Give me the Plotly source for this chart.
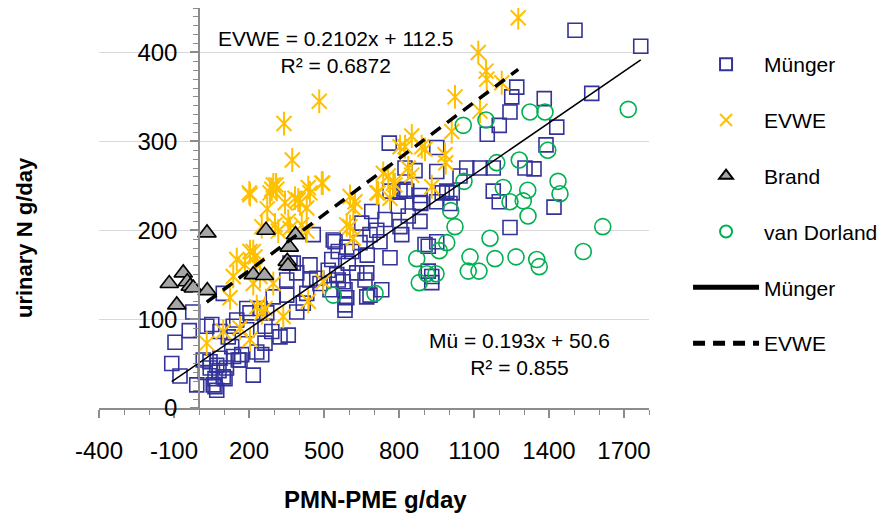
import plotly.graph_objects as go

# ---------------- data ----------------
munger_x = [-109, -96, -76, -39, -25, -9, 17, 25, 44, 45, 57, 64, 64, 71, 71, 80, 84, 97, 97, 104,
            110, 31, 51, 84, 117, 131, 137, 138, 151, 157, 164, 171, 191, 191, 204, 217, 231, 244,
            251, 264, 264, 271, 291, 297, 324, 351, 351, 357, 364, 377, 391, 391, 417, 431, 444,
            444, 457, 471, 484, 517, 524, 531, 537, 544, 551, 557, 557, 577, 584, 584, 584, 591,
            591, 597, 611, 631, 644, 651, 664, 671, 671, 673, 684, 684, 691, 711, 724, 731, 744,
            761, 764, 764, 797, 804, 804, 811, 824, 824, 831, 837, 864, 884, 884, 884, 887, 904,
            917, 917, 931, 931, 951, 951, 951, 951, 973, 991, 1004, 1013, 1044, 1071, 1124, 1153,
            1177, 1177, 1201, 1201, 1244, 1244, 1251, 1271, 1304, 1340, 1381, 1388, 1420, 1431,
            1504, 1571, 1767]
munger_y = [50, 74, 36, 87, 108, 26, 54, 40, 52, 45, 26, 33, 24, 48, 20, 42, 56, 35, 129, 33,
            45, 92, 94, 86, 80, 69, 92, 58, 99, 54, 54, 60, 88, 112, 107, 37, 63, 112,
            60, 73, 92, 107, 86, 125, 80, 127, 144, 82, 163, 163, 108, 152, 118, 129, 144,
            161, 195, 146, 140, 155, 133, 167, 189, 187, 150, 144, 176, 142, 133, 116, 110, 124,
            181, 163, 176, 152, 186, 208, 144, 125, 152, 172, 127, 195, 221, 200, 187, 133, 212,
            298, 169, 244, 227, 244, 204, 195, 246, 270, 244, 216, 267, 210, 231, 239, 230, 184,
            182, 154, 148, 141, 293, 266, 232, 187, 242, 244, 230, 242, 261, 270, 270, 308,
            270, 244, 318, 232, 333, 203, 350, 361, 270, 269, 348, 296, 226, 316,
            425, 354, 407]

evwe_x = [31, 97, 124, 137, 151, 164, 184, 201, 204, 204, 204, 217, 217, 224, 231, 231, 244, 251,
          251, 264, 273, 284, 291, 297, 297, 304, 308, 311, 317, 337, 340, 344, 357, 364, 373,
          384, 397, 404, 411, 431, 431, 437, 437, 444, 481, 491, 495, 497, 591, 604, 604, 617,
          617, 624, 711, 717, 737, 757, 764, 777, 784, 804, 824, 837, 851, 851, 891, 904, 931,
          984, 987, 1011, 1024, 1117, 1124, 1148, 1151, 1211, 1277]
evwe_y = [73, 86, 124, 148, 167, 90, 161, 242, 176, 77, 240, 140, 176, 170, 114, 161, 148, 107,
          204, 112, 224, 242, 246, 251, 140, 206, 251, 246, 199, 103, 320, 231, 210, 202, 279,
          236, 234, 231, 206, 225, 199, 248, 120, 242, 345, 253, 253, 142, 206, 238, 204, 191,
          225, 232, 242, 242, 264, 261, 236, 253, 251, 294, 294, 270, 306, 262, 294, 291, 249,
          285, 276, 311, 350, 400, 334, 379, 370, 366, 439]

brand_x = [-119, -89, -63, -47, -35, -23, 33, 32, 217, 262, 268, 353, 356, 361, 386]
brand_y = [140, 116, 152, 142, 137, 135, 132, 197, 150, 149, 200, 165, 160, 181, 195]

dorland_x = [537, 704, 871, 881, 911, 948, 961, 991, 1007, 1024, 1060, 1057, 1077, 1084, 1120,
             1148, 1164, 1184, 1191, 1217, 1244, 1268, 1281, 1297, 1315, 1316, 1324, 1351, 1361,
             1384, 1395, 1436, 1444, 1537, 1615, 1717]
dorland_y = [127, 129, 168, 141, 151, 151, 177, 186, 222, 204, 255, 318, 154, 170, 154,
             324, 191, 168, 276, 248, 232, 170, 279, 233, 245, 216, 333, 167, 159,
             333, 290, 255, 241, 176, 204, 336]

# regression coefficients shown on the chart
mu_slope, mu_icpt, mu_r2 = 0.193, 50.6, 0.855
ev_slope, ev_icpt, ev_r2 = 0.2102, 112.5, 0.6872

x_ticks = [-400, -100, 200, 500, 800, 1100, 1400, 1700]
y_ticks = [0, 100, 200, 300, 400]

# ---------------- styling ----------------
FONT = "Arial, Liberation Sans, Helvetica, sans-serif"
AXIS_COL = "#8c8c8c"
BLUE = "#333399"
GOLD = "#FFC000"
GREEN = "#00B050"
GRAY = "#A6A6A6"

fig = go.Figure()

fig.add_trace(go.Scatter(x=munger_x, y=munger_y, mode="markers", name="Münger",
                         legendgroup="g1",
                         marker=dict(symbol="square-open", size=14, color=BLUE,
                                     line=dict(width=1.6, color=BLUE))))
fig.add_trace(go.Scatter(x=evwe_x, y=evwe_y, mode="markers", name="EVWE",
                         legendgroup="g2",
                         marker=dict(symbol="x-thin-open", size=15, color=GOLD,
                                     line=dict(width=2, color=GOLD))))
fig.add_trace(go.Scatter(x=evwe_x, y=evwe_y, mode="markers", name="EVWE",
                         legendgroup="g2", showlegend=False,
                         marker=dict(symbol="line-ns-open", size=17, color=GOLD,
                                     line=dict(width=2, color=GOLD))))
fig.add_trace(go.Scatter(x=brand_x, y=brand_y, mode="markers", name="Brand",
                         legendgroup="g3",
                         marker=dict(symbol="triangle-up", size=16, color=GRAY,
                                     line=dict(width=1.6, color="black"))))
fig.add_trace(go.Scatter(x=dorland_x, y=dorland_y, mode="markers", name="van Dorland",
                         legendgroup="g4",
                         marker=dict(symbol="circle-open", size=16, color=GREEN,
                                     line=dict(width=1.6, color=GREEN))))

mx = [min(munger_x), max(munger_x)]
fig.add_trace(go.Scatter(x=mx, y=[mu_slope * v + mu_icpt for v in mx], mode="lines",
                         name="Münger", legendgroup="g5",
                         line=dict(color="black", width=1.5)))
ex = [min(evwe_x), max(evwe_x)]
fig.add_trace(go.Scatter(x=ex, y=[ev_slope * v + ev_icpt for v in ex], mode="lines",
                         name="EVWE", legendgroup="g6",
                         line=dict(color="black", width=3.5, dash="12px,8px")))

ypos = 400 / 2200  # fraction of x domain where x = 0

fig.update_layout(
    width=882, height=515,
    margin=dict(l=99, r=233, t=8, b=107, autoexpand=False),
    plot_bgcolor="white", paper_bgcolor="white",
    font=dict(family=FONT, color="black"),
    showlegend=True,
    legend=dict(x=1.071, y=0.91, xanchor="left", yanchor="top",
                font=dict(size=21, family=FONT), itemsizing="constant",
                itemwidth=66, tracegroupgap=25.5, bgcolor="rgba(0,0,0,0)"),
    xaxis=dict(range=[-400, 1800], tickvals=x_ticks, ticktext=[str(v) for v in x_ticks],
               showgrid=False, zeroline=False, showline=True, linecolor=AXIS_COL,
               linewidth=1.5, ticks="outside", ticklen=8, tickwidth=1.5, tickcolor=AXIS_COL,
               tickfont=dict(size=24), ticklabelstandoff=12,
               minor=dict(ticks="outside", ticklen=5, dtick=100, tick0=-400,
                          tickcolor=AXIS_COL, tickwidth=1.2, showgrid=False)),
    yaxis=dict(range=[0, 450], tickvals=y_ticks, anchor="free", position=ypos,
               showgrid=True, gridcolor="#d9d9d9", gridwidth=1,
               zeroline=False, showline=True, linecolor=AXIS_COL, linewidth=1.5,
               ticks="outside", ticklen=8, tickwidth=1.5, tickcolor=AXIS_COL,
               tickfont=dict(size=24), ticklabelstandoff=8,
               minor=dict(ticks="outside", ticklen=5, dtick=10, tick0=0,
                          tickcolor=AXIS_COL, tickwidth=1.2, showgrid=False)),
    xaxis2=dict(range=[-400, 1800], overlaying="x", anchor="y", side="bottom",
                tickvals=x_ticks, showticklabels=False, showgrid=False, zeroline=False,
                showline=False, ticks="inside", ticklen=8, tickwidth=1.5, tickcolor=AXIS_COL),
    yaxis2=dict(range=[0, 450], overlaying="y", anchor="free", position=ypos,
                tickvals=y_ticks, showticklabels=False, showgrid=False, zeroline=False,
                showline=False, ticks="inside", ticklen=8, tickwidth=1.5, tickcolor=AXIS_COL),
)

fig.add_annotation(x=544, y=400, xref="x", yref="y", showarrow=False,
                   text=f"EVWE = {ev_slope}x + {ev_icpt}<br>R² = {ev_r2}",
                   font=dict(size=21, family=FONT), align="center")
fig.add_annotation(x=1282, y=61, xref="x", yref="y", showarrow=False,
                   text=f"Mü = {mu_slope}x + {mu_icpt}<br>R² = {mu_r2}",
                   font=dict(size=21, family=FONT), align="center")

fig.add_annotation(x=25, y=238, xref="paper", yref="paper", showarrow=False,
                   xanchor="center", yanchor="middle",
                   text="<b>urinary N g/day</b>", textangle=-90,
                   font=dict(size=22, family=FONT))
fig.add_annotation(x=375, y=499, xref="paper", yref="paper", showarrow=False,
                   xanchor="center", yanchor="middle",
                   text="<b>PMN-PME g/day</b>", font=dict(size=24, family=FONT))

# convert the pixel-located titles to paper coordinates
W_PLOT, H_PLOT = 882 - 99 - 233, 515 - 8 - 107
for ann in fig.layout.annotations[2:]:
    ann.x = (ann.x - 99) / W_PLOT
    ann.y = (408 - ann.y) / H_PLOT

fig.write_html("out.html")
